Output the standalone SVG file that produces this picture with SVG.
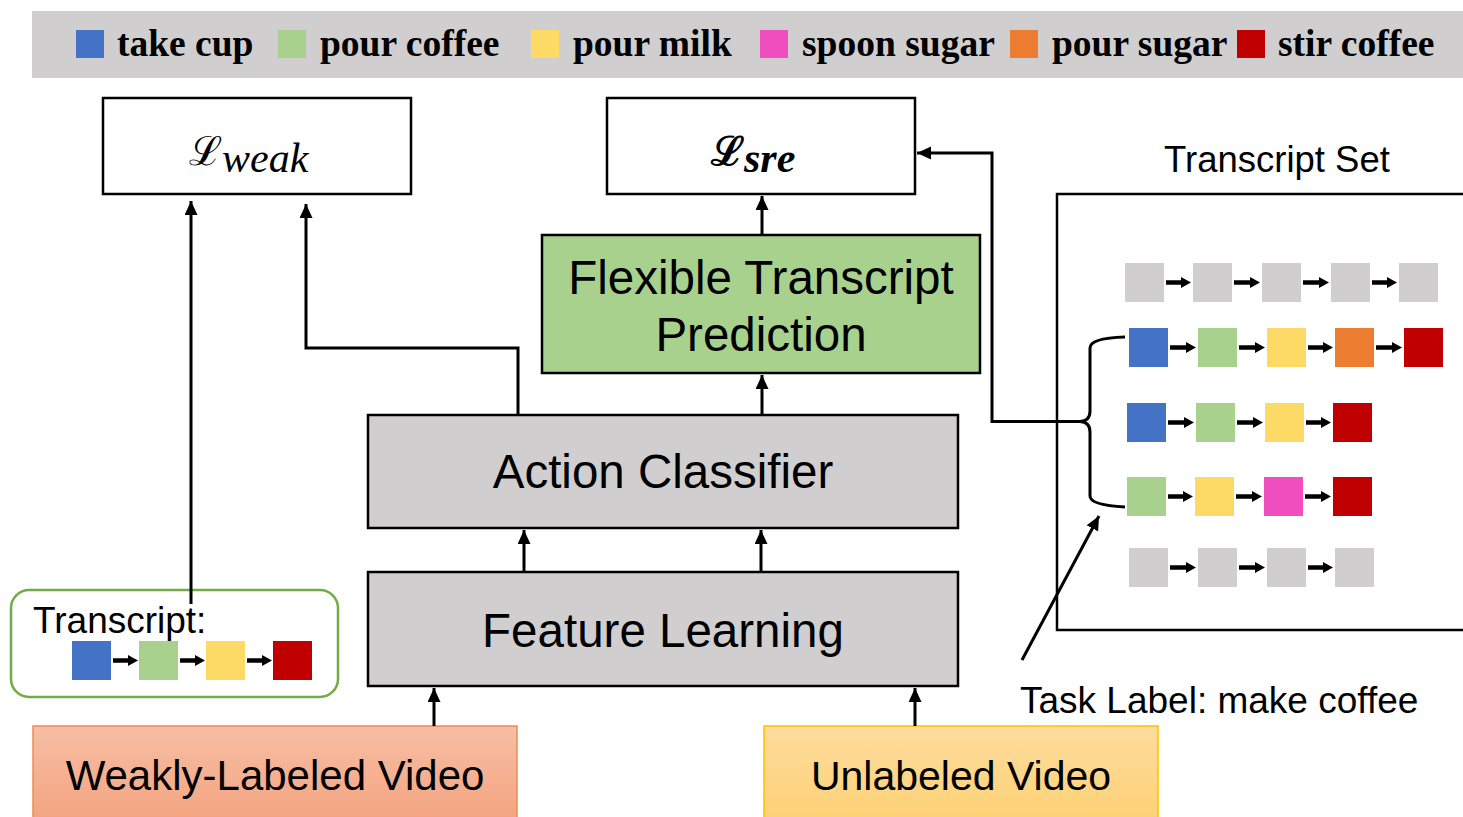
<svg xmlns="http://www.w3.org/2000/svg" width="1463" height="817" viewBox="0 0 1463 817">
  <defs>
    <style>
      .box { stroke: #000; stroke-width: 2.5; }
      .sans { font-family: "Liberation Sans", Arial, sans-serif; fill: #000; }
      .legend { font-family: "Liberation Serif", "Times New Roman", serif; font-weight: bold; font-size: 37.5px; fill: #000; }
      .conn { fill: none; stroke: #000; stroke-width: 3; }
      .step { stroke: #000; stroke-width: 4.5; marker-end: url(#smallHead); }
      .blue { fill: #4472c4; } .green { fill: #a9d18e; } .yellow { fill: #fdd966; }
      .pink { fill: #f04dbf; } .orange { fill: #ed7d31; } .red { fill: #c00000; } .gray { fill: #d0cecf; }
    </style>
    <marker id="head" markerUnits="userSpaceOnUse" markerWidth="16" markerHeight="16" refX="14" refY="6.5" orient="auto">
      <path d="M0,0 L14,6.5 L0,13 z" fill="#000"/>
    </marker>
    <marker id="smallHead" markerUnits="userSpaceOnUse" markerWidth="12" markerHeight="12" refX="4" refY="5.5" orient="auto">
      <path d="M0,0 L10,5.5 L0,11 z" fill="#000"/>
    </marker>
    <linearGradient id="gradWeak" x1="0" y1="0" x2="0" y2="1">
      <stop offset="0" stop-color="#f6bea5"/>
      <stop offset="1" stop-color="#f4a47f"/>
    </linearGradient>
    <linearGradient id="gradUnl" x1="0" y1="0" x2="0" y2="1">
      <stop offset="0" stop-color="#fedc9e"/>
      <stop offset="1" stop-color="#fdd175"/>
    </linearGradient>
  </defs>

  <rect width="1463" height="817" fill="#fff"/>

  <!-- action legend -->
  <g id="legend">
    <rect x="32" y="11" width="1431" height="67" fill="#d0cecf"/>
    <rect class="blue" x="76" y="30" width="28" height="28"/>
    <text class="legend" x="117" y="56">take cup</text>
    <rect class="green" x="278" y="30" width="28" height="28"/>
    <text class="legend" x="320" y="56">pour coffee</text>
    <rect class="yellow" x="531" y="30" width="28" height="28"/>
    <text class="legend" x="573" y="56">pour milk</text>
    <rect class="pink" x="760" y="30" width="28" height="28"/>
    <text class="legend" x="802" y="56">spoon sugar</text>
    <rect class="orange" x="1010" y="30" width="28" height="28"/>
    <text class="legend" x="1052" y="56">pour sugar</text>
    <rect class="red" x="1237" y="30" width="28" height="28"/>
    <text class="legend" x="1278" y="56">stir coffee</text>
  </g>

  <!-- loss boxes -->
  <g id="loss-weak">
    <rect class="box" x="103" y="98" width="308" height="96" fill="#fff"/>
    <text x="189" y="165" font-family="'DejaVu Serif', serif" font-size="40">ℒ<tspan font-family="'Liberation Serif', serif" font-style="italic" font-size="42" dy="7">weak</tspan></text>
  </g>
  <g id="loss-sre">
    <rect class="box" x="607" y="98" width="308" height="96" fill="#fff"/>
    <text x="711" y="165" font-family="'DejaVu Serif', serif" font-size="40" font-weight="bold">ℒ<tspan font-family="'Liberation Serif', serif" font-style="italic" font-weight="bold" font-size="42" dy="7">sre</tspan></text>
  </g>

  <!-- model blocks -->
  <g id="flexible-transcript-prediction">
    <rect class="box" x="542" y="235" width="438" height="138" fill="#a9d18e"/>
    <text class="sans" x="761" y="294" font-size="47.5" text-anchor="middle">Flexible Transcript</text>
    <text class="sans" x="761" y="351" font-size="47.5" text-anchor="middle">Prediction</text>
  </g>
  <g id="action-classifier">
    <rect class="box" x="368" y="415" width="590" height="113" fill="#d0cecf"/>
    <text class="sans" x="663" y="488" font-size="47.5" text-anchor="middle">Action Classifier</text>
  </g>
  <g id="feature-learning">
    <rect class="box" x="368" y="572" width="590" height="114" fill="#d0cecf"/>
    <text class="sans" x="663" y="647" font-size="47.5" text-anchor="middle">Feature Learning</text>
  </g>

  <!-- inputs -->
  <g id="weakly-labeled-video">
    <rect x="33" y="726" width="484" height="95" fill="url(#gradWeak)" stroke="#ed8c50" stroke-width="1.5"/>
    <text class="sans" x="275" y="790" font-size="42" text-anchor="middle">Weakly-Labeled Video</text>
  </g>
  <g id="unlabeled-video">
    <rect x="764" y="726" width="394" height="95" fill="url(#gradUnl)" stroke="#ffc000" stroke-width="1.5"/>
    <text class="sans" x="961" y="790" font-size="41" text-anchor="middle">Unlabeled Video</text>
  </g>

  <!-- weak transcript -->
  <g id="transcript">
    <rect x="11" y="590" width="327" height="107" rx="18" fill="#fff" stroke="#70ad47" stroke-width="2.5"/>
    <text class="sans" x="33" y="633" font-size="37">Transcript:</text>
    <rect class="blue" x="72" y="641" width="39" height="39"/>
    <rect class="green" x="139" y="641" width="39" height="39"/>
    <rect class="yellow" x="206" y="641" width="39" height="39"/>
    <rect class="red" x="273" y="641" width="39" height="39"/>
    <line class="step" x1="113" y1="660.5" x2="132" y2="660.5"/>
    <line class="step" x1="180" y1="660.5" x2="199" y2="660.5"/>
    <line class="step" x1="247" y1="660.5" x2="266" y2="660.5"/>
  </g>

  <!-- transcript set -->
  <g id="transcript-set">
    <text class="sans" x="1277" y="172" font-size="36.5" text-anchor="middle">Transcript Set</text>
    <path d="M1463,194 L1057,194 L1057,630 L1463,630" fill="none" stroke="#000" stroke-width="2.5"/>

    <!-- row 1 -->
    <rect class="gray" x="1125" y="263" width="39" height="39"/>
    <rect class="gray" x="1193" y="263" width="39" height="39"/>
    <rect class="gray" x="1262" y="263" width="39" height="39"/>
    <rect class="gray" x="1331" y="263" width="39" height="39"/>
    <rect class="gray" x="1399" y="263" width="39" height="39"/>
    <line class="step" x1="1166" y1="282.5" x2="1185" y2="282.5"/>
    <line class="step" x1="1234" y1="282.5" x2="1254" y2="282.5"/>
    <line class="step" x1="1303" y1="282.5" x2="1323" y2="282.5"/>
    <line class="step" x1="1372" y1="282.5" x2="1391" y2="282.5"/>

    <!-- row 2 -->
    <rect class="blue" x="1129" y="328" width="39" height="39"/>
    <rect class="green" x="1198" y="328" width="39" height="39"/>
    <rect class="yellow" x="1267" y="328" width="39" height="39"/>
    <rect class="orange" x="1335" y="328" width="39" height="39"/>
    <rect class="red" x="1404" y="328" width="39" height="39"/>
    <line class="step" x1="1170" y1="347.5" x2="1190" y2="347.5"/>
    <line class="step" x1="1239" y1="347.5" x2="1259" y2="347.5"/>
    <line class="step" x1="1308" y1="347.5" x2="1327" y2="347.5"/>
    <line class="step" x1="1376" y1="347.5" x2="1396" y2="347.5"/>

    <!-- row 3 -->
    <rect class="blue" x="1127" y="403" width="39" height="39"/>
    <rect class="green" x="1196" y="403" width="39" height="39"/>
    <rect class="yellow" x="1265" y="403" width="39" height="39"/>
    <rect class="red" x="1333" y="403" width="39" height="39"/>
    <line class="step" x1="1168" y1="422.5" x2="1188" y2="422.5"/>
    <line class="step" x1="1237" y1="422.5" x2="1257" y2="422.5"/>
    <line class="step" x1="1306" y1="422.5" x2="1325" y2="422.5"/>

    <!-- row 4 -->
    <rect class="green" x="1127" y="477" width="39" height="39"/>
    <rect class="yellow" x="1195" y="477" width="39" height="39"/>
    <rect class="pink" x="1264" y="477" width="39" height="39"/>
    <rect class="red" x="1333" y="477" width="39" height="39"/>
    <line class="step" x1="1168" y1="496.5" x2="1187" y2="496.5"/>
    <line class="step" x1="1236" y1="496.5" x2="1256" y2="496.5"/>
    <line class="step" x1="1305" y1="496.5" x2="1325" y2="496.5"/>

    <!-- row 5 -->
    <rect class="gray" x="1129" y="548" width="39" height="39"/>
    <rect class="gray" x="1198" y="548" width="39" height="39"/>
    <rect class="gray" x="1267" y="548" width="39" height="39"/>
    <rect class="gray" x="1335" y="548" width="39" height="39"/>
    <line class="step" x1="1170" y1="567.5" x2="1190" y2="567.5"/>
    <line class="step" x1="1239" y1="567.5" x2="1259" y2="567.5"/>
    <line class="step" x1="1308" y1="567.5" x2="1327" y2="567.5"/>

    <!-- brace grouping the valid transcripts -->
    <path d="M1125,337 Q1090,338 1090,348 L1090,411 Q1090,421 1080,421.5 Q1090,422 1090,432 L1090,496 Q1090,505 1125,507" fill="none" stroke="#000" stroke-width="3"/>
  </g>

  <g id="task-label">
    <text class="sans" x="1020" y="713" font-size="37">Task Label: make coffee</text>
  </g>

  <!-- connectors -->
  <g id="connectors">
    <path class="conn" d="M191,604 L191,201" marker-end="url(#head)"/>
    <path class="conn" d="M518,415 L518,348 L306,348 L306,204" marker-end="url(#head)"/>
    <path class="conn" d="M762,415 L762,375" marker-end="url(#head)"/>
    <path class="conn" d="M762,235 L762,196" marker-end="url(#head)"/>
    <path class="conn" d="M524,572 L524,530" marker-end="url(#head)"/>
    <path class="conn" d="M761,572 L761,530" marker-end="url(#head)"/>
    <path class="conn" d="M434,726 L434,688" marker-end="url(#head)"/>
    <path class="conn" d="M915,726 L915,688" marker-end="url(#head)"/>
    <path class="conn" d="M1082,421.5 L992,421.5 L992,153 L917,153" marker-end="url(#head)"/>
    <path class="conn" d="M1022,660 L1099,516" marker-end="url(#head)"/>
  </g>
</svg>
